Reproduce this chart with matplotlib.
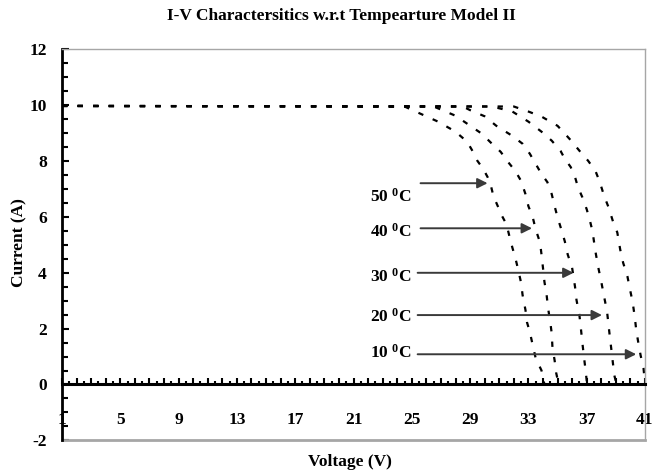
import matplotlib
matplotlib.use("Agg")
import matplotlib.pyplot as plt
from matplotlib.ticker import MultipleLocator, FuncFormatter

plt.rcParams['font.family'] = ['Liberation Serif', 'DejaVu Serif']
plt.rcParams['font.weight'] = 'bold'
plt.rcParams['axes.unicode_minus'] = False
plt.rcParams['mathtext.fontset'] = 'custom'
plt.rcParams['mathtext.rm'] = 'Liberation Serif:bold'
plt.rcParams['mathtext.it'] = 'Liberation Serif:bold'
plt.rcParams['mathtext.bf'] = 'Liberation Serif:bold'

# I-V curves (voltage in V, current in A) for each cell temperature
v_10 = [1, 32.0, 33.0, 33.9, 35.0, 35.5, 36.0, 36.5, 37.1, 37.6, 37.9, 38.2, 38.5, 38.8, 39.1,
        39.3, 39.5, 39.8, 39.95, 40.15, 40.3, 40.4, 40.55, 40.7, 40.9, 41.0]
i_10 = [9.95, 9.93, 9.75, 9.57, 9.24, 8.96, 8.67, 8.35, 7.99, 7.63, 7.23, 6.73, 6.33, 5.83, 5.43,
        4.82, 4.35, 3.85, 3.45, 2.95, 2.41, 1.94, 1.47, 1.04, 0.58, 0.04]

v_20 = [1, 30.5, 31.9, 33.0, 33.9, 34.6, 35.2, 35.5, 35.9, 36.2, 36.4, 36.7, 37.0, 37.2, 37.4,
        37.6, 37.8, 38.0, 38.2, 38.4, 38.5, 38.6, 38.7, 38.8, 38.9, 39.1]
i_20 = [9.95, 9.93, 9.75, 9.39, 9.03, 8.71, 8.35, 8.06, 7.77, 7.41, 7.05, 6.69, 6.26, 5.90, 5.47,
        4.75, 4.17, 3.67, 3.13, 2.59, 2.12, 1.65, 1.22, 0.76, 0.32, -0.10]

v_30 = [1, 28.5, 29.0, 30.0, 30.8, 31.9, 32.6, 33.1, 33.5, 33.9, 34.3, 34.6, 34.8, 35.0, 35.3,
        35.5, 35.7, 36.0, 36.2, 36.3, 36.5, 36.6, 36.7, 36.8, 36.9, 37.0, 37.2]
i_30 = [9.95, 9.93, 9.80, 9.58, 9.24, 8.88, 8.60, 8.24, 7.88, 7.52, 7.23, 6.80, 6.37, 5.97, 5.47,
        5.11, 4.64, 4.17, 3.49, 3.02, 2.48, 2.01, 1.51, 1.04, 0.61, 0.14, -0.10]

v_40 = [1, 26.5, 28.0, 29.8, 30.5, 31.1, 31.6, 32.1, 32.5, 32.8, 33.0, 33.3, 33.5, 33.8, 33.9,
        34.0, 34.1, 34.25, 34.35, 34.5, 34.6, 34.65, 34.8, 34.9, 35.1]
i_40 = [9.95, 9.93, 9.60, 8.96, 8.60, 8.31, 7.95, 7.63, 7.27, 6.80, 6.37, 5.97, 5.54, 5.07, 4.64,
        4.17, 3.67, 3.20, 2.73, 2.23, 1.83, 1.33, 0.86, 0.43, -0.05]

v_50 = [1, 24.5, 25.9, 26.8, 28.0, 28.8, 29.2, 29.5, 29.9, 30.2, 30.4, 30.6, 30.9, 31.2, 31.5,
        31.7, 31.9, 32.1, 32.3, 32.5, 32.6, 32.8, 32.9, 33.1, 33.3, 33.5, 33.9, 34.1]
i_50 = [9.95, 9.93, 9.60, 9.39, 9.03, 8.67, 8.31, 7.99, 7.70, 7.41, 7.16, 6.73, 6.37, 6.01, 5.72,
        5.29, 4.89, 4.53, 4.10, 3.63, 3.20, 2.66, 2.23, 1.87, 1.40, 0.94, 0.50, 0.0]

curves = [(v_10, i_10), (v_20, i_20), (v_30, i_30), (v_40, i_40), (v_50, i_50)]

# temperature callouts: label text position, arrow start and arrow tip
temps = ['50', '40', '30', '20', '10']
label_y = [6.69, 5.47, 3.85, 2.41, 1.12]
arrow_y = [7.19, 5.58, 3.99, 2.48, 1.08]
arrow_x0 = [25.6, 25.6, 25.4, 25.4, 25.4]
arrow_x1 = [30.2, 33.25, 36.1, 38.05, 40.4]
label_x = 25.0

fig = plt.figure(figsize=(6.62, 4.76), dpi=100)
ax = fig.add_axes([0.0937, 0.0746, 0.9743 - 0.0937, 0.898 - 0.0746])

for v, i in curves:
    ax.plot(v, i, color='black', lw=1.6, linestyle=(0, (2.4, 4.6)))

for t, ly, ay, x0, x1 in zip(temps, label_y, arrow_y, arrow_x0, arrow_x1):
    ax.text(label_x, ly, t + r' $^{0}$C', ha='right', va='center', fontsize=12.5)
    ax.annotate('', xy=(x1, ay), xytext=(x0, ay),
                arrowprops=dict(arrowstyle='-|>', color='#3a3a3a', lw=1.4,
                                mutation_scale=15, shrinkA=0, shrinkB=0))

ax.set_xlim(1, 41)
ax.set_ylim(-2, 12)

# x axis crosses at I = 0, remaining frame in light grey
ax.spines['bottom'].set_position(('data', 0))
ax.spines['bottom'].set_linewidth(2.2)
ax.spines['left'].set_linewidth(2.0)
for s in ['top', 'right']:
    ax.spines[s].set_color('#a6a6a6')
    ax.spines[s].set_linewidth(1.0)
ax.plot([0, 1], [0, 0], transform=ax.transAxes, color='#a6a6a6', lw=2.0, clip_on=False)

ax.xaxis.set_major_locator(MultipleLocator(1))
ax.xaxis.set_minor_locator(MultipleLocator(0.5))
ax.xaxis.set_major_formatter(FuncFormatter(lambda x, p: '%d' % x if int(round(x - 1)) % 4 == 0 else ''))
ax.yaxis.set_major_locator(MultipleLocator(2))
ax.yaxis.set_minor_locator(MultipleLocator(0.5))

ax.tick_params(axis='x', which='major', direction='in', length=4.5, width=1.5, pad=20, labelsize=12.5)
ax.tick_params(axis='x', which='minor', direction='in', length=2.5, width=1.5)
ax.tick_params(axis='y', which='major', direction='in', length=5, width=1.5, pad=11, labelsize=12.5)
ax.tick_params(axis='y', which='minor', direction='in', length=4, width=1.5)
ax.tick_params(top=False, right=False, which='both')

fig.text(0.515, 0.966, 'I-V Charactersitics w.r.t Tempearture Model II', ha='center', va='center', fontsize=12.5)
fig.text(0.528, 0.03, 'Voltage (V)', ha='center', va='center', fontsize=12.5)
fig.text(0.03, 0.49, 'Current (A)', ha='center', va='center', rotation=90, fontsize=12.5)

fig.savefig('out.png', dpi=100)
